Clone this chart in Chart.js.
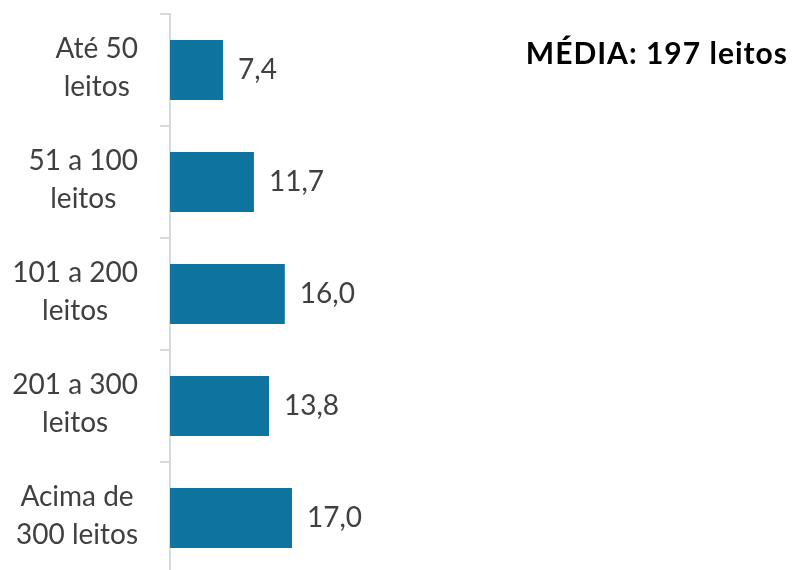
<!DOCTYPE html>
<html>
<head>
<meta charset="utf-8">
<script src="https://cdn.jsdelivr.net/npm/chart.js@4/dist/chart.umd.min.js"></script>
<style>
  html, body { margin: 0; padding: 0; background: #fff; overflow: hidden; }
  #wrap { width: 794px; height: 574px; }
</style>
</head>
<body>
<div id="wrap"><canvas id="chart" width="794" height="574"></canvas></div>
<script>
const categories = [
  ['Até 50', 'leitos'],
  ['51 a 100', 'leitos'],
  ['101 a 200', 'leitos'],
  ['201 a 300', 'leitos'],
  ['Acima de', '300 leitos'],
];
const values = [7.4, 11.7, 16.0, 13.8, 17.0];
const headline = 'MÉDIA: 197 leitos';

const barColor = '#0E739E';
const textColor = '#404040';
const fontFamily = 'Lato, "Open Sans", sans-serif';

const fmt = (v) => v.toFixed(1).replace('.', ',');

// category labels: block right-aligned, each line centred inside the block
const categoryLabels = {
  id: 'categoryLabels',
  afterDraw(chart) {
    const { ctx } = chart;
    const yScale = chart.scales.y;
    const right = 138;
    const lineHeight = 38;
    ctx.save();
    ctx.font = `28px ${fontFamily}`;
    ctx.fillStyle = textColor;
    ctx.textAlign = 'center';
    ctx.textBaseline = 'middle';
    categories.forEach((lines, i) => {
      const y = yScale.getPixelForTick(i) - 2;
      const maxW = Math.max(...lines.map((l) => ctx.measureText(l).width));
      const cx = right - maxW / 2;
      lines.forEach((line, j) => {
        ctx.fillText(line, cx, y + (j - (lines.length - 1) / 2) * lineHeight);
      });
    });
    ctx.restore();
  },
};

const valueLabels = {
  id: 'valueLabels',
  afterDatasetsDraw(chart) {
    const { ctx } = chart;
    const meta = chart.getDatasetMeta(0);
    ctx.save();
    ctx.font = `28px ${fontFamily}`;
    ctx.fillStyle = textColor;
    ctx.textAlign = 'left';
    ctx.textBaseline = 'middle';
    meta.data.forEach((bar, i) => {
      ctx.fillText(fmt(values[i]), bar.x + 15, bar.y);
    });
    ctx.restore();
  },
};

const headlineText = {
  id: 'headlineText',
  afterDraw(chart) {
    const { ctx } = chart;
    ctx.save();
    ctx.font = `bold 30px ${fontFamily}`;
    ctx.letterSpacing = '1px';
    ctx.fillStyle = '#000';
    ctx.textAlign = 'right';
    ctx.textBaseline = 'alphabetic';
    ctx.fillText(headline, 788, 64);
    ctx.restore();
  },
};

new Chart(document.getElementById('chart'), {
  type: 'bar',
  data: {
    labels: categories,
    datasets: [{
      data: values,
      backgroundColor: barColor,
      borderWidth: 0,
      categoryPercentage: 1,
      barPercentage: 0.536,
    }],
  },
  options: {
    indexAxis: 'y',
    responsive: false,
    animation: false,
    devicePixelRatio: 1,
    layout: { padding: { top: 14, right: 50, bottom: 0, left: 0 } },
    plugins: {
      legend: { display: false },
      tooltip: { enabled: false },
    },
    scales: {
      x: {
        display: false,
        min: 0,
        max: 80,
      },
      y: {
        grid: {
          offset: true,
          drawOnChartArea: false,
          drawTicks: true,
          tickLength: 10,
          color: '#D9D9D9',
          lineWidth: 2,
        },
        border: { display: true, color: '#D9D9D9', width: 2 },
        ticks: { display: false },
        afterFit: (scale) => { scale.width = 170; },
      },
    },
  },
  plugins: [categoryLabels, valueLabels, headlineText],
});
</script>
</body>
</html>
